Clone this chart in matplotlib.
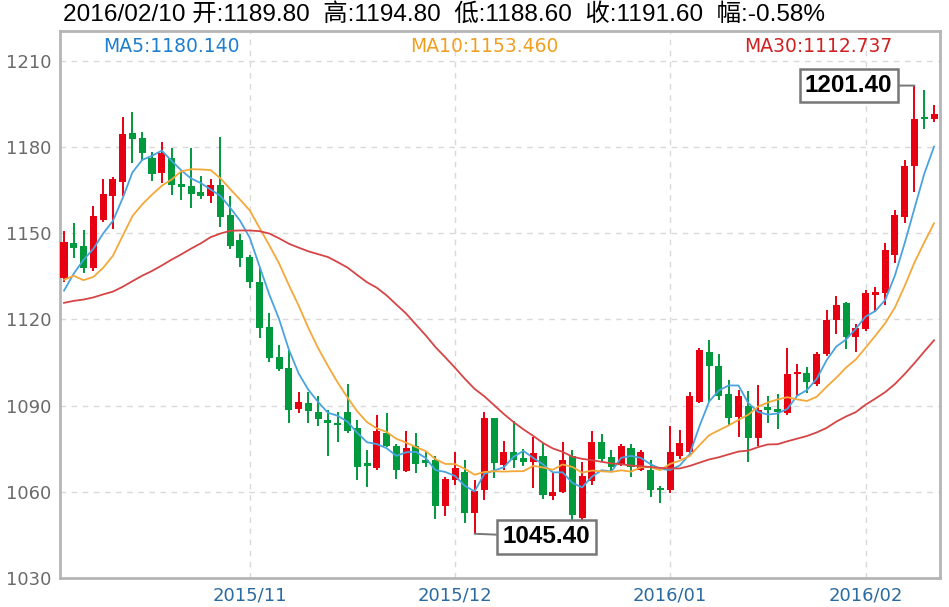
import numpy as np
import pandas as pd
import matplotlib.pyplot as plt

# daily candles 2015/10/06 .. 2016/02/10
opens = [1134.4, 1146.5, 1145.6, 1137.8, 1154.7, 1162.8, 1168.0, 1184.8, 1183.1, 1176.1,
         1171.0, 1176.1, 1167.2, 1166.3, 1164.2, 1163.0, 1166.8, 1156.4, 1147.7, 1141.7,
         1133.2, 1117.2, 1106.9, 1103.0, 1088.8, 1090.9, 1087.9, 1085.0, 1084.1, 1087.9,
         1082.2, 1070.0, 1068.2, 1080.4, 1076.1, 1067.4, 1075.8, 1071.1, 1071.1, 1055.1,
         1064.2, 1067.0, 1052.6, 1060.7, 1085.6, 1069.4, 1074.0, 1071.7, 1070.5, 1072.5,
         1058.6, 1059.8, 1072.3, 1050.8, 1063.6, 1077.5, 1072.0, 1069.4, 1075.2, 1067.6,
         1067.6, 1061.3, 1060.7, 1072.5, 1074.0, 1091.4, 1108.6, 1103.8, 1094.1, 1086.0,
         1089.9, 1078.7, 1089.5, 1088.8, 1087.5, 1101.0, 1101.5, 1097.6, 1108.0, 1119.9,
         1125.7, 1113.8, 1116.6, 1128.6, 1129.1, 1142.5, 1155.6, 1173.5, 1190.1, 1189.8]
highs = [1150.9, 1153.7, 1151.2, 1159.5, 1168.8, 1169.5, 1190.3, 1192.1, 1185.2, 1178.2,
         1181.7, 1179.6, 1171.5, 1179.6, 1170.0, 1168.9, 1183.4, 1162.8, 1149.8, 1142.5,
         1137.8, 1122.2, 1111.1, 1109.4, 1094.6, 1094.6, 1093.4, 1088.5, 1087.7, 1097.5,
         1085.0, 1074.6, 1086.8, 1087.4, 1076.5, 1081.0, 1080.4, 1074.0, 1072.3, 1065.1,
         1074.0, 1071.1, 1064.2, 1087.7, 1085.8, 1077.8, 1084.5, 1074.9, 1079.0, 1076.9,
         1067.0, 1077.5, 1074.6, 1070.5, 1081.0, 1080.2, 1074.6, 1076.7, 1076.7, 1074.6,
         1070.9, 1062.1, 1082.9, 1081.6, 1094.9, 1110.0, 1112.9, 1108.0, 1099.0, 1095.5,
         1095.2, 1097.2, 1093.4, 1094.1, 1110.0, 1104.5, 1103.4, 1108.5, 1123.3, 1128.2,
         1126.0, 1118.5, 1130.3, 1131.2, 1146.5, 1158.1, 1175.5, 1201.4, 1199.7, 1194.8]
lows = [1133.0, 1141.3, 1136.1, 1137.0, 1154.0, 1151.4, 1162.8, 1174.4, 1175.0, 1168.3,
        1167.6, 1163.4, 1161.6, 1158.7, 1161.9, 1160.5, 1152.1, 1144.5, 1138.4, 1130.9,
        1113.5, 1105.3, 1101.9, 1084.1, 1087.4, 1083.9, 1082.9, 1072.5, 1077.5, 1080.4,
        1064.2, 1061.8, 1067.6, 1075.5, 1064.5, 1067.0, 1066.5, 1068.6, 1050.5, 1051.6,
        1062.4, 1049.1, 1045.4, 1057.2, 1064.9, 1067.6, 1068.2, 1069.0, 1061.3, 1057.4,
        1057.2, 1059.5, 1049.7, 1050.2, 1062.4, 1070.5, 1067.0, 1069.0, 1065.1, 1067.3,
        1058.1, 1056.0, 1059.5, 1071.4, 1072.3, 1090.9, 1091.4, 1092.0, 1082.9, 1079.0,
        1070.5, 1075.8, 1083.9, 1081.8, 1086.8, 1093.2, 1094.3, 1097.0, 1107.1, 1115.0,
        1109.7, 1108.8, 1116.0, 1122.7, 1125.0, 1139.6, 1153.5, 1164.5, 1186.2, 1188.6]
closes = [1147.1, 1144.8, 1137.8, 1156.1, 1163.7, 1168.9, 1184.5, 1182.7, 1177.9, 1170.7,
          1178.0, 1166.8, 1166.0, 1163.7, 1162.8, 1166.8, 1155.6, 1145.4, 1141.5, 1132.9,
          1117.0, 1106.5, 1102.7, 1088.5, 1091.4, 1088.3, 1085.3, 1084.1, 1083.3, 1081.0,
          1068.8, 1069.0, 1081.0, 1076.1, 1067.6, 1075.2, 1069.7, 1070.2, 1055.1, 1064.4,
          1068.2, 1052.6, 1060.4, 1085.6, 1070.2, 1074.0, 1070.9, 1070.5, 1073.4, 1058.9,
          1060.1, 1071.1, 1052.0, 1065.6, 1077.5, 1071.4, 1068.8, 1076.0, 1068.8, 1074.0,
          1060.5, 1060.6, 1074.0, 1076.9, 1093.4, 1109.2, 1103.8, 1093.2, 1085.6, 1093.2,
          1078.6, 1088.5, 1088.4, 1087.7, 1101.1, 1101.5, 1098.3, 1108.0, 1119.9, 1125.1,
          1113.8, 1117.0, 1129.1, 1129.7, 1144.3, 1156.4, 1173.4, 1189.6, 1189.7, 1191.6]
# closes of the 29 days before the window, only needed for the moving averages
pre_closes = [1124, 1124, 1134, 1132, 1140, 1134, 1124, 1121, 1121, 1121,
              1106, 1110, 1104, 1108, 1102, 1118, 1117, 1138, 1133, 1124,
              1131, 1153, 1145, 1132, 1127, 1115, 1114, 1137, 1137]

month_pos = [19, 40, 62, 82]
month_labels = ["2015/11", "2015/12", "2016/01", "2016/02"]

header = "2016/02/10 开:1189.80  高:1194.80  低:1188.60  收:1191.60  幅:-0.58%"

UP = "#e60012"
DOWN = "#00993e"

o = np.array(opens)
h = np.array(highs)
l = np.array(lows)
c = np.array(closes)
n = len(c)
x = np.arange(n)

allc = pd.Series(pre_closes + closes)
ma5 = allc.rolling(5).mean().values[-n:]
ma10 = allc.rolling(10).mean().values[-n:]
ma30 = allc.rolling(30).mean().values[-n:]

fig = plt.figure(figsize=(9.49, 6.07), dpi=100)
ax = fig.add_axes([60 / 949, 1 - 578 / 607, 880 / 949, 547 / 607])

colors = np.where(c >= o, UP, DOWN)
ax.vlines(x, l, h, colors=colors, lw=1.4, zorder=3)
body = np.maximum(np.abs(c - o), 0.6)
ax.bar(x, body, bottom=np.minimum(o, c), width=0.72, color=colors, zorder=3)

ax.plot(x, ma5, color="#4aa3df", lw=1.3, zorder=4)
ax.plot(x, ma10, color="#f5a83a", lw=1.3, zorder=4)
ax.plot(x, ma30, color="#d64545", lw=1.3, zorder=4)

ax.set_xlim(-0.41, n - 1 + 0.61)
ax.set_ylim(1030, 1030 + 547 / 2.873)
ax.set_yticks(range(1030, 1211, 30))
ax.set_xticks(month_pos)
ax.set_xticklabels(month_labels)
ax.grid(True, ls=(0, (4, 4)), color="#d9d9d9", lw=1.0)
ax.set_axisbelow(True)
ax.tick_params(length=0)
ax.tick_params(axis="y", labelcolor="#6a6a6a", labelsize=13, pad=6)
ax.tick_params(axis="x", labelcolor="#2a6aa0", labelsize=13, pad=6)
for s in ax.spines.values():
    s.set_color("#b5b5b5")
    s.set_linewidth(2)

# max / min labels
box = dict(boxstyle="square,pad=0.22", fc="white", ec="#777777", lw=1.8)
line = dict(arrowstyle="-", color="#777777", lw=1.4, shrinkA=0, shrinkB=0)
ax.annotate(f"{h.max():.2f}", xy=(h.argmax(), h.max()), xytext=(-22, 0),
            textcoords="offset pixels", ha="right", va="center",
            fontsize=17.5, fontweight="bold", family="Liberation Sans",
            bbox=box, arrowprops=line, zorder=6)
ax.annotate(f"{l.min():.2f}", xy=(l.argmin(), l.min()), xytext=(28, -3),
            textcoords="offset pixels", ha="left", va="center",
            fontsize=17.5, fontweight="bold", family="Liberation Sans",
            bbox=box, arrowprops=line, zorder=6)

fig.text(63 / 949, 1 - 14 / 607, header, fontsize=17.6, va="center",
         family=["Liberation Sans", "Noto Sans CJK SC"])
fig.text(103 / 949, 1 - 46 / 607, f"MA5:{ma5[-1]:.3f}", color="#1f7fcf",
         fontsize=13.5, va="center")
fig.text(410 / 949, 1 - 46 / 607, f"MA10:{ma10[-1]:.3f}", color="#f0a020",
         fontsize=13.5, va="center")
fig.text(744 / 949, 1 - 46 / 607, f"MA30:{ma30[-1]:.3f}", color="#d02020",
         fontsize=13.5, va="center")

fig.savefig("out.png", dpi=100)
